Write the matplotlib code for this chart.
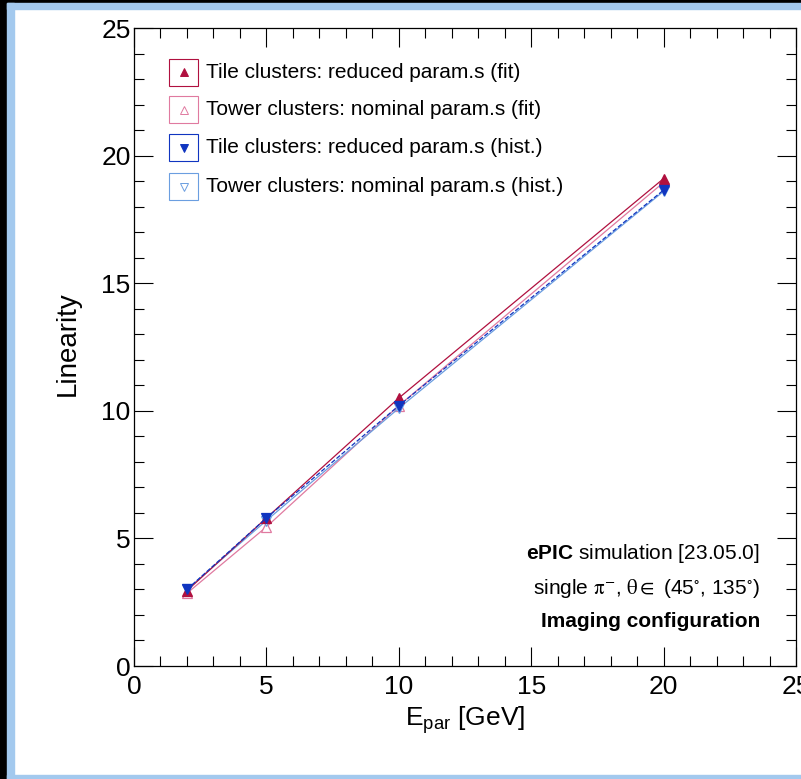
import matplotlib
matplotlib.use("Agg")
import matplotlib.pyplot as plt
from matplotlib.patches import Rectangle
from matplotlib.ticker import MultipleLocator

plt.rcParams['font.family'] = ['Liberation Sans', 'DejaVu Sans']
plt.rcParams['mathtext.fontset'] = 'custom'
plt.rcParams['mathtext.rm'] = 'Liberation Sans'
plt.rcParams['mathtext.it'] = 'Liberation Sans:italic'
plt.rcParams['mathtext.bf'] = 'Liberation Sans:bold'
plt.rcParams['mathtext.sf'] = 'Liberation Sans'

# ---- data ----
energies = [2, 5, 10, 20]
tile_fit = [2.95, 5.80, 10.50, 19.10]
tower_fit = [2.85, 5.45, 10.20, 18.95]
tile_hist = [3.00, 5.80, 10.20, 18.65]
tower_hist = [3.00, 5.70, 10.10, 18.60]

labels = ["Tile clusters: reduced param.s (fit)",
          "Tower clusters: nominal param.s (fit)",
          "Tile clusters: reduced param.s (hist.)",
          "Tower clusters: nominal param.s (hist.)"]
colors = ["#b0103f", "#e07aa0", "#1035c0", "#6b9ee0"]
markers = ["^", "^", "v", "v"]
filled = [True, False, True, False]
styles = ["-", "-", "--", "-"]
series = [tile_fit, tower_fit, tile_hist, tower_hist]

W, H = 801, 779
fig = plt.figure(figsize=(W / 100, H / 100), dpi=100)

# screenshot frame
def px_rect(x0, y0, x1, y1, color):
    fig.patches.append(Rectangle((x0 / W, 1 - y1 / H), (x1 - x0) / W, (y1 - y0) / H,
                                 transform=fig.transFigure, color=color, zorder=0))
px_rect(0, 0, 7, H, "black")
px_rect(0, 0, W, 3, "black")
px_rect(7, 3, 14, H, "#a3c9ee")
px_rect(7, 3, W, 9, "#a3c9ee")
px_rect(7, 775, W, H, "#a3c9ee")

L, R, T, B = 134, 796, 28, 666
ax = fig.add_axes([L / W, 1 - B / H, (R - L) / W, (B - T) / H])

for ys, c, m, f, ls, lab in zip(series, colors, markers, filled, styles, labels):
    ax.plot(energies, ys, color=c, lw=0.9, ls=ls, marker=m, markersize=7,
            markerfacecolor=c if f else "white", markeredgecolor=c,
            markeredgewidth=0.9, label=lab, zorder=3 if f else 2)

ax.set_xlim(0, 25)
ax.set_ylim(0, 25)
ax.xaxis.set_major_locator(MultipleLocator(5))
ax.xaxis.set_minor_locator(MultipleLocator(1))
ax.yaxis.set_major_locator(MultipleLocator(5))
ax.yaxis.set_minor_locator(MultipleLocator(1))
ax.tick_params(which='both', direction='in', top=True, right=True, width=0.8, colors='black')
ax.tick_params(which='major', length=14)
ax.tick_params(which='minor', length=7.5)
ax.tick_params(axis='x', which='major', pad=6.5, labelsize=19)
ax.tick_params(axis='y', which='major', pad=2.5, labelsize=19)
for s in ax.spines.values():
    s.set_linewidth(0.9)

ax.set_xlabel(r"E$_{\mathrm{par}}$ [GeV]", fontsize=19)
ax.xaxis.set_label_coords(0.5, -0.06)
ax.set_ylabel("Linearity", fontsize=20)
ax.yaxis.set_label_coords(-0.08, 0.505)

# manual ROOT-style legend
row_y = [0.931, 0.8715, 0.812, 0.7508]
bx, bw, bh = 0.0529, 0.0438, 0.0423
for yc, c, m, f, lab in zip(row_y, colors, markers, filled, labels):
    ax.add_patch(Rectangle((bx, yc - bh / 2), bw, bh, transform=ax.transAxes,
                           facecolor='white', edgecolor=c, lw=0.8, zorder=5))
    ax.plot([bx + bw / 2], [yc], transform=ax.transAxes, marker=m, markersize=6,
            markerfacecolor=c if f else "white", markeredgecolor=c,
            markeredgewidth=0.7, ls='none', zorder=6, clip_on=False)
    ax.text(0.1088, yc, lab, transform=ax.transAxes, fontsize=15, va='center', ha='left')

xr = 0.9456
ax.text(xr, 0.1677, r"$\mathbf{ePIC}$ simulation [23.05.0]", transform=ax.transAxes,
        fontsize=15, ha='right', va='baseline')
ax.text(xr, 0.113, r"single $\mathrm{\pi}^{-}$, $\mathrm{\theta} \in$ (45$^{\circ}$, 135$^{\circ}$)",
        transform=ax.transAxes, fontsize=15, ha='right', va='baseline',
        math_fontfamily='stix')
ax.text(xr, 0.061, "Imaging configuration", transform=ax.transAxes,
        fontsize=15, ha='right', va='baseline', fontweight='bold')

fig.savefig("out.png", dpi=100)
